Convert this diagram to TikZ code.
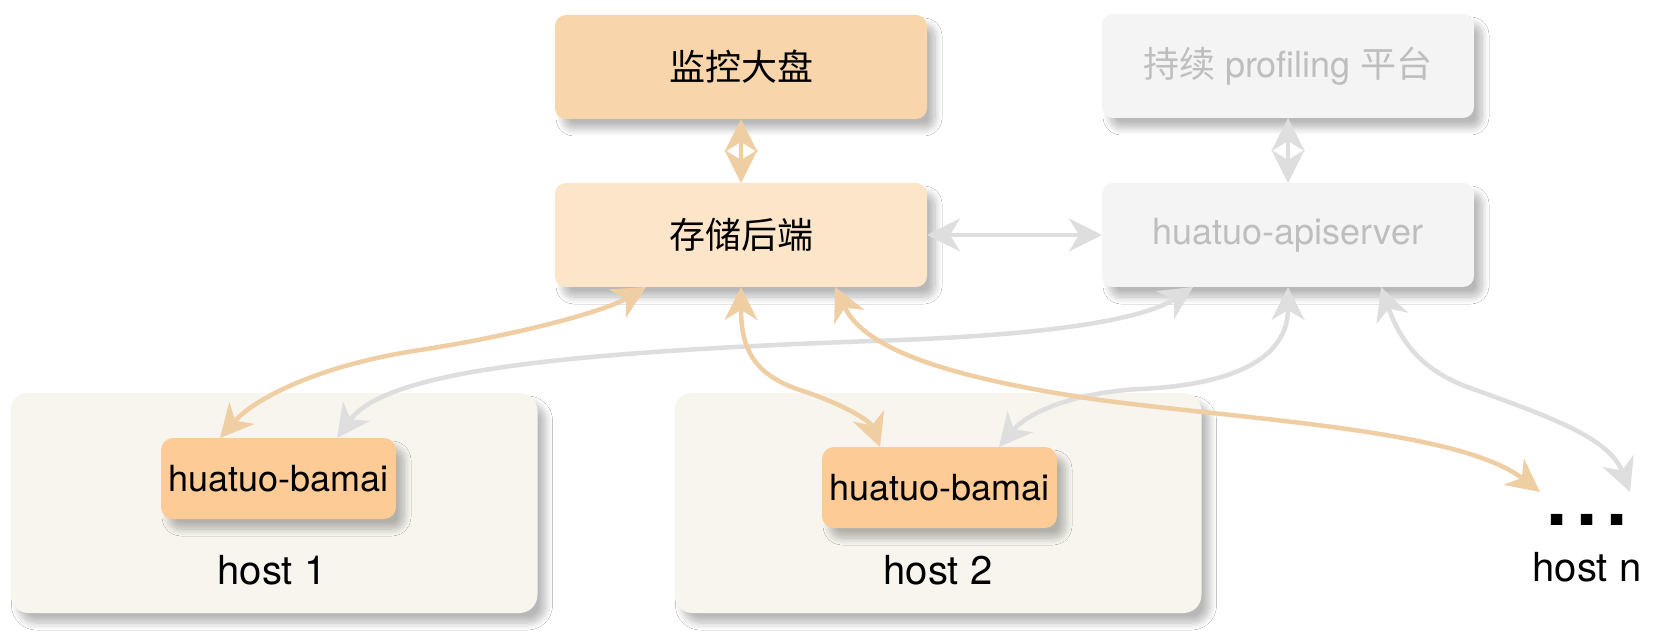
\documentclass[tikz,border=0pt]{standalone}
\usepackage{fontspec}
\setmainfont{TeX Gyre Heros}
\newfontfamily\cjk{Noto Sans CJK SC}
\usetikzlibrary{arrows.meta,shadows.blur}
\definecolor{monfill}{HTML}{F8D5AA}
\definecolor{stfill}{HTML}{FDE5CA}
\definecolor{grayfill}{HTML}{F4F4F4}
\definecolor{graytext}{HTML}{BEBEBE}
\definecolor{hostfill}{HTML}{F7F5EE}
\definecolor{bamaifill}{HTML}{FDCB96}
\definecolor{oline}{HTML}{F0CEA3}
\definecolor{gline}{HTML}{DEDEDE}
\newcommand{\fsA}{\fontsize{36}{40}\selectfont}
\newcommand{\fsB}{\fontsize{40}{44}\selectfont}
\tikzset{
  shd/.style={blur shadow={shadow xshift=8pt, shadow yshift=-10pt, shadow blur radius=7pt, shadow opacity=28, shadow blur steps=12}},
  bigbox/.style={shd, rounded corners=11pt, minimum width=372pt, minimum height=104pt, inner sep=0pt, outer sep=0pt, font=\fsA},
  hostbox/.style={shd, fill=hostfill, rounded corners=18pt, minimum width=527pt, minimum height=220pt, inner sep=0pt, outer sep=0pt},
  bamaibox/.style={shd, fill=bamaifill, rounded corners=12pt, minimum width=235pt, minimum height=81pt, inner sep=0pt, outer sep=0pt, font=\fsA},
  lbl/.style={font=\fsB, inner sep=0pt},
  tipA/.tip={Stealth[length=33pt,width=33pt,inset=10pt]},
  oarr/.style={draw=oline, line width=4.5pt, tipA-tipA},
  garr/.style={draw=gline, line width=4.5pt, tipA-tipA},
}
\begin{document}
\begin{tikzpicture}[x=1pt,y=-1pt]
\useasboundingbox[fill=white] (0,0) rectangle (1674,636);
% top boxes
\node[bigbox, fill=monfill] (mon) at (741,67) {\cjk 监控大盘};
\node[bigbox, fill=stfill] (st) at (741,235) {\cjk 存储后端};
\node[bigbox, fill=grayfill, text=graytext] (prof) at (1288,66) {{\cjk 持续} profiling {\cjk 平台}};
\node[bigbox, fill=grayfill, text=graytext] (api) at (1288,235) {huatuo-apiserver};
% hosts
\node[hostbox] (h1) at (274,503) {};
\node[hostbox] (h2) at (938,503) {};
\node[bamaibox] (b1) at (278.5,478.5) {huatuo-bamai};
\node[bamaibox] (b2) at (939.5,487.5) {huatuo-bamai};
\node[lbl] (l1) at (272,570) {host 1};
\node[lbl] (l2) at (938,570) {host 2};
\node[lbl] (ln) at (1587,567) {host n};
\node[font=\fontsize{76}{76}\selectfont\bfseries, inner sep=0pt] (dots) at (1587,520) {.\hspace{9pt}.\hspace{9pt}.};
\coordinate (nO) at (1540,492);
\coordinate (nG) at (1630,492);
% connectors
\draw[oarr] (mon.south) -- (st.north);
\draw[garr] (prof.south) -- (api.north);
\draw[garr] (st.east) -- (api.west);
% gray long curves
\draw[garr] ([xshift=91pt]api.south west) .. controls (1150,315) and (1080,333) .. (900,340)
   .. controls (550,352) and (385,372) .. ([xshift=176pt]b1.north west);
\draw[garr] (api.south) .. controls (1288,360) and (1230,385) .. (1140,389)
   .. controls (1080,392) and (1030,410) .. ([xshift=177pt]b2.north west);
\draw[garr] ([xshift=279pt]api.south west) .. controls (1400,340) and (1420,370) .. (1470,388)
   .. controls (1560,420) and (1610,440) .. (nG);
% orange curves
\draw[oarr] ([xshift=91pt]st.south west) .. controls (600,314) and (500,338) .. (420,350)
   .. controls (320,365) and (255,398) .. ([xshift=59pt]b1.north west);
\draw[oarr] (st.south) .. controls (741,350) and (755,375) .. (800,390)
   .. controls (840,403) and (870,420) .. ([xshift=58pt]b2.north west);
\draw[oarr] ([xshift=280pt]st.south west) .. controls (865,350) and (950,378) .. (1100,400)
   .. controls (1250,420) and (1460,430) .. (nO);
\end{tikzpicture}
\end{document}
